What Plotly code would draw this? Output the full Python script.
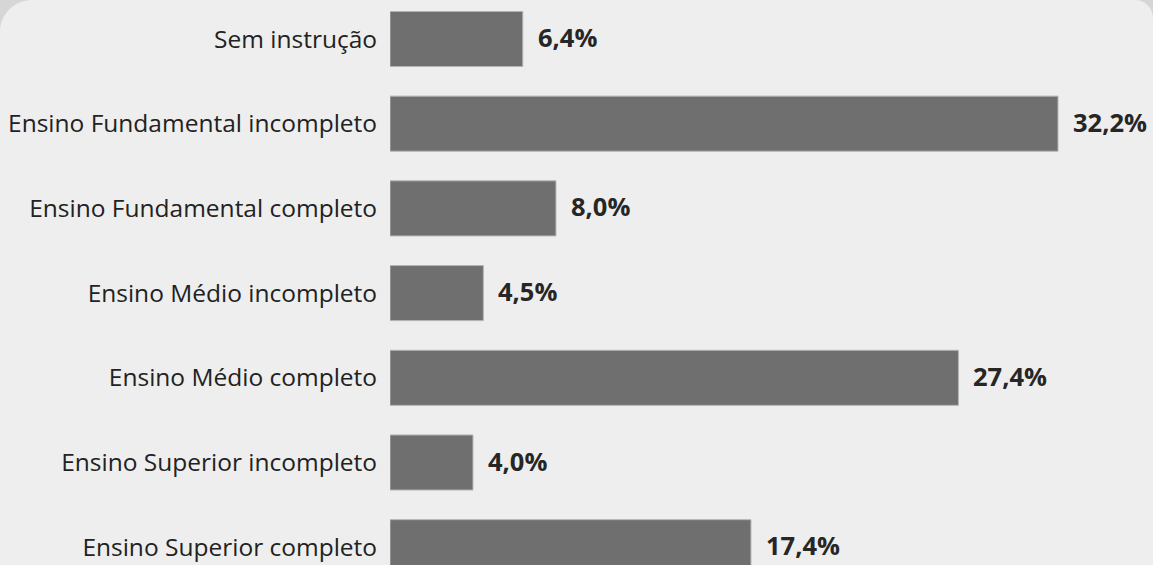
import plotly.graph_objects as go

categories = ["Sem instrução", "Ensino Fundamental incompleto", "Ensino Fundamental completo",
              "Ensino Médio incompleto", "Ensino Médio completo", "Ensino Superior incompleto",
              "Ensino Superior completo"]
values = [6.4, 32.2, 8.0, 4.5, 27.4, 4.0, 17.4]
value_labels = ["6,4%", "32,2%", "8,0%", "4,5%", "27,4%", "4,0%", "17,4%"]

W, H = 1153, 565
ML = 390
PW = W - ML

FONT = "Open Sans"

fig = go.Figure()
fig.add_trace(go.Bar(
    x=values, y=categories, orientation="h",
    marker=dict(color="#6f6f6f", line=dict(color="#b4b4b4", width=1)),
    hoverinfo="skip",
))

for v, c, t in zip(values, categories, value_labels):
    fig.add_annotation(x=v, y=c, text="<b>" + t + "</b>", showarrow=False,
                       xanchor="left", yanchor="middle", xshift=13, yshift=2,
                       font=dict(family=FONT, size=25.5, color="#262626"))

def px2paper(x, y):
    return (x - ML) / PW, 1 - y / H

def corner_path(points):
    parts = []
    for cmd, pts in points:
        coords = " ".join("%.5f,%.5f" % px2paper(*p) for p in pts)
        parts.append(cmd + " " + coords)
    return " ".join(parts) + " Z"

r1 = 32
k = 0.4477
tl = corner_path([("M", [(0, 0)]), ("L", [(r1, 0)]),
                  ("C", [(r1 * k, 0), (0, r1 * k), (0, r1)])])
r2 = 18
tr = corner_path([("M", [(W, 0)]), ("L", [(W - r2, 0)]),
                  ("C", [(W - r2 * k, 0), (W, r2 * k), (W, r2)])])
for p in (tl, tr):
    fig.add_shape(type="path", path=p, xref="paper", yref="paper",
                  fillcolor="#d6d6d6", line=dict(width=0), layer="below")

fig.update_layout(
    width=W, height=H,
    margin=dict(l=ML, r=0, t=0, b=0),
    paper_bgcolor="#eeeeee", plot_bgcolor="rgba(0,0,0,0)",
    bargap=0.35, showlegend=False,
    xaxis=dict(range=[0, PW / 20.745], visible=False, fixedrange=True),
    yaxis=dict(range=[6.21, -0.46], showgrid=False, zeroline=False, showline=False,
               ticks="outside", ticklen=7, tickcolor="rgba(0,0,0,0)",
               tickfont=dict(family=FONT, size=24.5, color="#222222"),
               automargin=False, fixedrange=True),
)

fig.write_html("out.html", config={"displayModeBar": False})
